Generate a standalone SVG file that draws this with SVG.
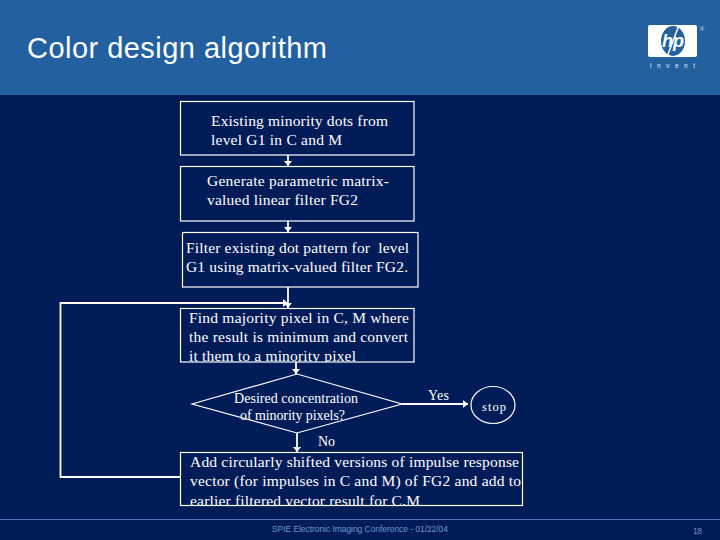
<svg xmlns="http://www.w3.org/2000/svg" width="720" height="540" viewBox="0 0 720 540">
<style>
.b{fill:none;stroke:#fff;stroke-width:1.2}
.t{font-family:"Liberation Serif",serif;font-size:15.500px;fill:#fff}
.s{font-family:"Liberation Serif",serif;font-size:14px;fill:#fff}
.c{fill:none;stroke:#fff;stroke-width:1.800}
.f{font-family:"Liberation Sans",sans-serif;font-size:8.500px;fill:#7095cc}
</style>
<defs>
<marker id="a" markerUnits="userSpaceOnUse" markerWidth="8" markerHeight="9" refX="5" refY="4.500" orient="auto"><path d="M0 0.500L5 4.500L0 8.500z" fill="#fff"/></marker>
<clipPath id="c4"><rect x="180" y="308" width="235" height="54"/></clipPath>
<clipPath id="c5"><rect x="180" y="451" width="343" height="54.500"/></clipPath>
<clipPath id="lg"><rect x="648" y="25" width="49" height="32"/></clipPath>
</defs>
<rect width="720" height="540" fill="#001c58"/>
<rect id="header" width="720" height="95" fill="#23609f"/>
<text x="27" y="58" font-family="Liberation Sans,sans-serif" font-size="29" fill="#fff" textLength="300">Color design algorithm</text>
<g id="logo">
<rect x="648" y="25" width="49" height="32" rx="2" fill="#fff"/>
<ellipse cx="673" cy="41" rx="12" ry="15" fill="#23609f"/>
<path d="M667 57L679 25" stroke="#fff" stroke-width="1.500" fill="none" clip-path="url(#lg)"/>
<text x="673" y="47" text-anchor="middle" font-family="Liberation Sans,sans-serif" font-size="18" font-style="italic" font-weight="bold" fill="#fff">hp</text>
<text x="702" y="31" text-anchor="middle" font-family="Liberation Sans,sans-serif" font-size="6" fill="#dbe6f3">®</text>
<text x="650" y="68" font-family="Liberation Sans,sans-serif" font-size="6.500" fill="#e8eef6" textLength="45">invent</text>
</g>
<g id="connectors">
<path class="c" d="M288 155V166" marker-end="url(#a)"/>
<path class="c" d="M288 221V232" marker-end="url(#a)"/>
<path class="c" d="M288 287V308" marker-end="url(#a)"/>
<path class="c" d="M180 477H60.500V303H288" marker-end="url(#a)"/>
<path class="c" d="M296 362V374" marker-end="url(#a)"/>
<path class="c" d="M402 404H468" marker-end="url(#a)"/>
<path class="c" d="M297 433V452" marker-end="url(#a)"/>
</g>
<g id="n1"><rect class="b" x="180.500" y="101.500" width="233.500" height="53.500"/>
<text class="t" x="211" y="126" textLength="177">Existing minority dots from</text>
<text class="t" x="211" y="145" textLength="131">level G1 in C and M</text></g>
<g id="n2"><rect class="b" x="180.500" y="166.500" width="233.500" height="54.500"/>
<text class="t" x="207" y="186" textLength="182">Generate parametric matrix-</text>
<text class="t" x="207" y="205" textLength="151">valued linear filter FG2</text></g>
<g id="n3"><rect class="b" x="182.500" y="232.500" width="235.500" height="54.500"/>
<text class="t" x="186" y="253" textLength="223" xml:space="preserve">Filter existing dot pattern for  level</text>
<text class="t" x="186" y="272" textLength="222">G1 using matrix-valued filter FG2.</text></g>
<g id="n4"><rect class="b" x="180.500" y="308.500" width="233.500" height="53.500"/>
<g clip-path="url(#c4)">
<text class="t" x="189" y="323" textLength="220">Find majority pixel in C, M where</text>
<text class="t" x="189" y="342" textLength="219">the result is minimum and convert</text>
<text class="t" x="189" y="361" textLength="167">it them to a minority pixel</text></g></g>
<g id="n5"><path class="b" d="M192 404L297 374L402 404L297 433z"/>
<text class="s" x="234" y="403" textLength="124">Desired concentration</text>
<text class="s" x="240" y="420" textLength="105">of minority pixels?</text></g>
<g id="n6"><ellipse class="b" cx="493" cy="405" rx="22" ry="18.500"/>
<text x="482" y="411" font-family="Liberation Serif,serif" font-size="12.500" fill="#fff" textLength="24">stop</text></g>
<g id="n7"><rect class="b" x="180.500" y="452.500" width="342" height="53"/>
<g clip-path="url(#c5)">
<text class="t" x="190" y="467" textLength="329">Add circularly shifted versions of impulse response</text>
<text class="t" x="190" y="486" textLength="331">vector (for impulses in C and M) of FG2 and add to</text>
<text class="t" x="190" y="506" textLength="230">earlier filtered vector result for C,M</text></g></g>
<text class="s" x="428" y="400" textLength="21">Yes</text>
<text class="s" x="318" y="446" textLength="17">No</text>
<g id="footer">
<rect y="519" width="720" height="1" fill="#4e77b8"/>
<text class="f" x="272" y="532" textLength="176">SPIE Electronic Imaging Conference - 01/22/04</text>
<text class="f" x="693" y="534" textLength="9">18</text>
</g>
</svg>
